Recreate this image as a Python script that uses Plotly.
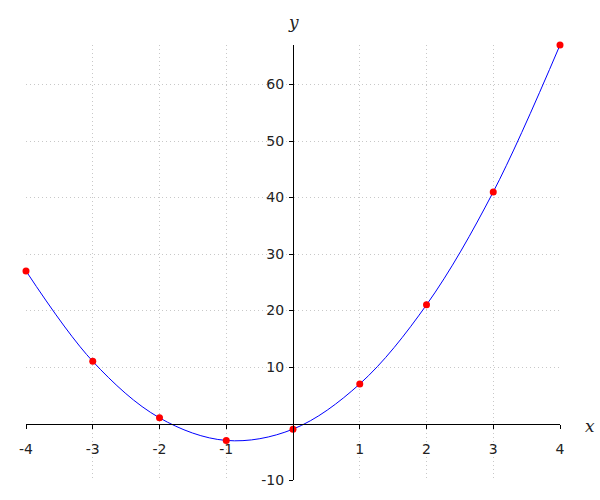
import plotly.graph_objects as go

x_vals = [-4, -3, -2, -1, 0, 1, 2, 3, 4]
y_vals = [27, 11, 1, -3, -1, 7, 21, 41, 67]
x_ticks = [-4, -3, -2, -1, 1, 2, 3, 4]
y_ticks = [-10, 10, 20, 30, 40, 50, 60]

y_min, y_max = -10, 67
x_min, x_max = -4, 4

fig = go.Figure()
fig.add_trace(go.Scatter(x=x_vals, y=y_vals, mode="lines",
                         line=dict(color="blue", width=1, shape="spline", smoothing=1.0),
                         hoverinfo="skip", showlegend=False, cliponaxis=False))
fig.add_trace(go.Scatter(x=x_vals, y=y_vals, mode="markers",
                         marker=dict(color="red", size=7),
                         showlegend=False, cliponaxis=False))

font = dict(family="DejaVu Sans", size=14, color="#222")
grid = dict(showgrid=True, gridcolor="#c8c8c8", griddash="1px,3px", gridwidth=1)
fig.update_layout(
    width=600, height=500,
    margin=dict(l=26, r=40, t=45, b=20, autoexpand=False),
    plot_bgcolor="white", paper_bgcolor="white",
    font=font,
    xaxis=dict(range=[x_min, x_max], tickvals=x_ticks, ticktext=[str(v) for v in x_ticks],
               zeroline=False, showline=True, linecolor="black", linewidth=1,
               ticks="outside", ticklen=4, tickcolor="black",
               anchor="free", position=(0 - y_min) / (y_max - y_min),
               ticklabelstandoff=9, **grid),
    yaxis=dict(range=[y_min, y_max], tickvals=y_ticks, ticktext=[str(v) for v in y_ticks],
               zeroline=False, showline=True, linecolor="black", linewidth=1,
               ticks="outside", ticklen=4, tickcolor="black",
               anchor="free", position=(0 - x_min) / (x_max - x_min),
               ticklabelstandoff=2, **grid),
    annotations=[
        dict(x=0, y=1, xref="x", yref="paper", text="<i>y</i>", showarrow=False,
             yshift=23, font=dict(family="DejaVu Serif", size=17, color="#222"),
             xanchor="center", yanchor="middle"),
        dict(x=1, y=0, xref="paper", yref="y", text="<i>x</i>", showarrow=False,
             xshift=30, yshift=-2, font=dict(family="DejaVu Serif", size=17, color="#222"),
             xanchor="center", yanchor="middle"),
    ],
)
fig.write_html("out.html", config={"displayModeBar": False},
               post_script="document.body.style.margin='0';document.body.style.overflow='hidden';")
